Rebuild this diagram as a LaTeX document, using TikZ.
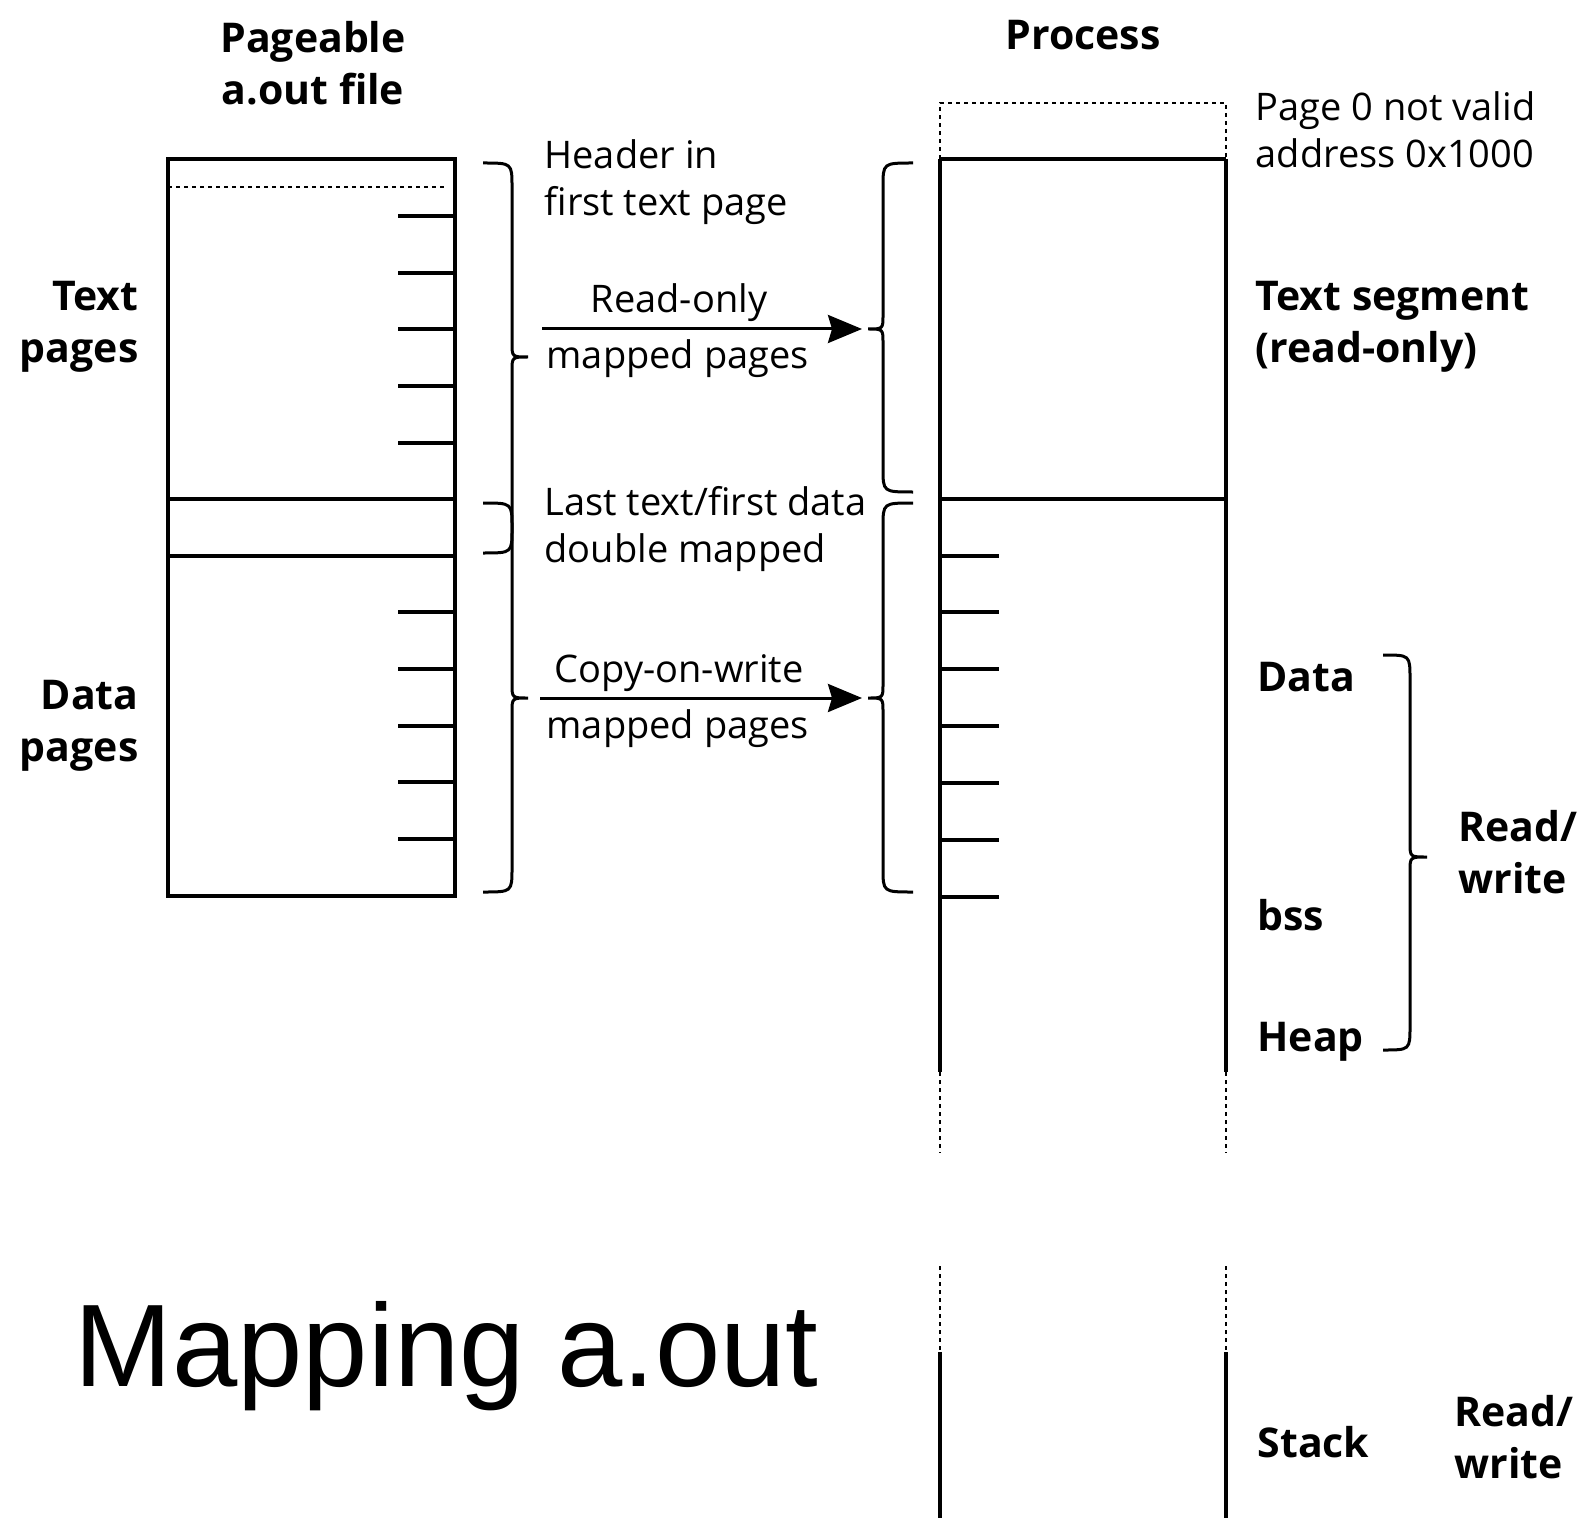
\documentclass[tikz,border=0pt]{standalone}
\usepackage{fontspec}
\setmainfont{Open Sans}
\newfontfamily\arialfont{Liberation Sans}
\usetikzlibrary{arrows.meta}
\newcommand{\bracepath}[6]{% x0,x1,x2,ya,yt,yb
  \draw[brc] (#1,#4) .. controls (#2,#4) .. (#2,{#4+24}) -- (#2,{#5-14})
    .. controls (#2,#5) .. (#3,#5) .. controls (#2,#5) .. (#2,{#5+14})
    -- (#2,{#6-24}) .. controls (#2,#6) .. (#1,#6);}
\begin{document}
\begin{tikzpicture}[x=0.5pt,y=-0.5pt,line width=1.6pt,
  brc/.style={line width=1.5pt},
  dotl/.style={line width=1.3pt,dash pattern=on 2pt off 2pt},
  reg/.style={inner sep=0pt,font=\fontsize{19}{23.5}\selectfont},
  hd/.style={inner sep=0pt,font=\fontsize{20.5}{26}\selectfont\bfseries},
  arr/.style={line width=1.5pt,-{Stealth[length=17pt,width=14pt,inset=2pt]}}]
\useasboundingbox (0,0) rectangle (1582,1518);
\fill[white] (0,0) rectangle (1582,1518);

% ---- a.out file ----
\draw (168,159) rectangle (455,896);
\draw[dotl] (168,187) -- (447,187);
\foreach \y in {216,273,329,386,443,612,669,726,782,839}
  \draw (398,\y) -- (455,\y);
\draw (168,499) -- (455,499);
\draw (168,556) -- (455,556);

% ---- process ----
\draw[dotl] (940,159) -- (940,103) -- (1226,103) -- (1226,159);
\draw (940,159) -- (1226,159);
\draw (940,499) -- (1226,499);
\draw (940,159) -- (940,1072);
\draw (1226,159) -- (1226,1072);
\draw[dotl] (940,1072) -- (940,1153);
\draw[dotl] (1226,1072) -- (1226,1153);
\draw[dotl] (940,1266) -- (940,1352);
\draw[dotl] (1226,1266) -- (1226,1352);
\draw (940,1352) -- (940,1518);
\draw (1226,1352) -- (1226,1518);
\foreach \y in {556,612,669,726,783,840,897}
  \draw (940,\y) -- (999,\y);

% ---- braces ----
\bracepath{483}{512}{528}{163}{357}{553}
\bracepath{483}{512}{528}{503}{698}{892}
\bracepath{913}{883}{868}{163}{329}{492}
\bracepath{913}{883}{868}{503}{698}{892}
\bracepath{1383}{1410}{1427}{655}{857}{1050}

% ---- arrows ----
\coordinate (ro0) at (542,329);
\coordinate (ro1) at (862,329);
\coordinate (cw0) at (540,698);
\coordinate (cw1) at (862,698);
\draw[arr] (ro0) -- (ro1);
\draw[arr] (cw0) -- (cw1);

% ---- headings ----
\node[hd,align=center] (hfile) at (313,63) {Pageable\\a.out file};
\node[hd] (hproc) at (1083,35) {Process};
\node[hd,align=right,anchor=east] (ltext) at (140,327) {Text\\pages};
\node[hd,align=right,anchor=east] (ldata) at (140,726) {Data\\pages};
\node[hd,align=left,anchor=west] (ltseg) at (1254,327) {Text segment\\(read-only)};
\node[hd,anchor=west] (ldat) at (1256,677) {Data};
\node[hd,anchor=west] (lbss) at (1256,915) {bss};
\node[hd,anchor=west] (lheap) at (1256,1042) {Heap};
\node[hd,anchor=west] (lstack) at (1256,1442) {Stack};
\node[hd,align=left,anchor=west] (lrw1) at (1457,852) {Read/\\write};
\node[hd,align=left,anchor=west] (lrw2) at (1453,1437) {Read/\\write};

% ---- regular labels ----
\node[reg,align=left,anchor=west] (lpage0) at (1254,130) {Page 0 not valid\\address 0x1000};
\node[reg,align=left,anchor=west] (lhdr) at (543,182) {Header in\\first text page};
\node[reg] (lro) at (679,303) {Read-only};
\node[reg,anchor=west] (lmp1) at (545,359) {mapped pages};
\node[reg,align=left,anchor=west] (llast) at (543,529) {Last text/first data\\double mapped};
\node[reg] (lcow) at (679,673) {Copy-on-write};
\node[reg,anchor=west] (lmp2) at (545,729) {mapped pages};

% ---- title ----
\node[inner sep=0pt,anchor=west,font=\arialfont\fontsize{58.7}{70}\selectfont] (title) at (73,1356) {Mapping a.out};
\end{tikzpicture}
\end{document}
